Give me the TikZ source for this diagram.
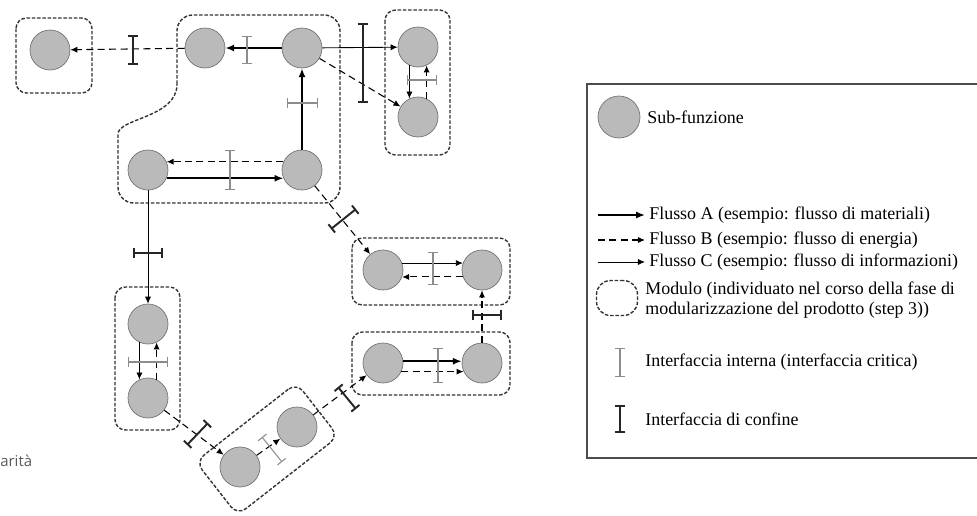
\documentclass[tikz,border=0pt]{standalone}
\usepackage{fontspec}
\setmainfont{Liberation Serif}
\newfontfamily\captfont{Open Sans}
\usetikzlibrary{arrows.meta}

\begin{document}
\begin{tikzpicture}[x=0.02cm, y=-0.02cm,
    subf/.style={circle, draw=black!55, fill=black!27, minimum size=0.8cm, inner sep=0pt},
    modulo/.style={draw=black!80, dash pattern=on 2pt off 1pt, line width=0.8pt, rounded corners=6pt},
    flowA/.style={line width=1.3pt, -{Latex[length=5pt,width=4pt]}},
    flowB/.style={line width=0.6pt, dash pattern=on 4pt off 2.5pt, -{Latex[length=4pt,width=3.5pt]}},
    flowC/.style={line width=0.5pt, -{Latex[length=4pt,width=3.5pt]}},
    intf/.style={black!45, line width=0.6pt, {Bar[width=6pt]}-{Bar[width=6pt]}},
    conf/.style={black!85, line width=1.1pt, {Bar[width=6pt]}-{Bar[width=6pt]}},
    legtext/.style={anchor=west, inner sep=0pt, font=\fontsize{10.2}{12}\selectfont}]
  \useasboundingbox (0,0) rectangle (977,515);

  % sub-funzioni
  \node[subf] (n1) at (50,50) {};
  \node[subf] (n2) at (205,48) {};
  \node[subf] (n3) at (302,48) {};
  \node[subf] (n4) at (148,170) {};
  \node[subf] (n5) at (302,170) {};
  \node[subf] (n6) at (418,47) {};
  \node[subf] (n7) at (418,117) {};
  \node[subf] (n8) at (148,324) {};
  \node[subf] (n9) at (148,398) {};
  \node[subf] (n10) at (240,467) {};
  \node[subf] (n11) at (297,427) {};
  \node[subf] (n12) at (383,270) {};
  \node[subf] (n13) at (482,270) {};
  \node[subf] (n14) at (383,363) {};
  \node[subf] (n15) at (482,363) {};

  % moduli
  \draw[modulo] (16,18) rectangle (92,93);
  \draw[modulo, rounded corners=9pt] (177,84) -- (177,15) -- (340,15) -- (340,203)
    -- (118,203) -- (118,150) .. controls (118,118) and (177,118) .. (177,84);
  \draw[modulo] (385,10) rectangle (450,155);
  \draw[modulo] (115,287) rectangle (180,430);
  \node[modulo, rotate=38, minimum width=2.56cm, minimum height=1.36cm] (modD) at (267,449) {};
  \draw[modulo] (352,238) rectangle (510,305);
  \draw[modulo] (352,332) rectangle (510,395);

  % flussi nel modulo grande
  \draw[flowB] (n2) -- (n1);
  \draw[flowA] (n3) -- (n2);
  \draw[flowA] (n5) -- (n3);
  \draw[flowA] (n4.-24) -- (n5.204);
  \draw[flowB] (n5.156) -- (n4.24);
  \draw[flowC] (n3) -- (n6);
  \draw[flowB] (n3) -- (n7);
  \draw[flowC] (n6.245) -- (n7.115);
  \draw[flowB] (n7.65) -- (n6.295);

  % flussi a destra
  \draw[flowB] (n5) -- (n12);
  \draw[flowC] (n12.20) -- (n13.160);
  \draw[flowB] (n13.200) -- (n12.-20);
  \draw[flowB] (n15) -- (n13);
  \draw[flowA] (n14.5) -- (n15.175);
  \draw[flowB] (n14.-25) -- (n15.205);

  % flussi a sinistra e in basso
  \draw[flowC] (n4) -- (n8);
  \draw[flowC] (n8.245) -- (n9.115);
  \draw[flowB] (n9.65) -- (n8.295);
  \draw[flowB] (n9) -- (n10);
  \draw[flowB] (n10) -- (n11);
  \draw[flowB] (n11) -- (n14);

  % interfacce
  \draw[conf] (133,35) -- (133,65);
  \draw[intf] (247,36) -- (247,64);
  \draw[intf] (287,103) -- (318,103);
  \draw[intf] (230,150) -- (230,190);
  \draw[conf] (363,23) -- (363,103);
  \draw[intf] (407,80) -- (437,80);
  \draw[conf] (331,229) -- (356,209);
  \draw[intf] (433,252) -- (433,285);
  \draw[conf] (472,315) -- (502,315);
  \draw[intf] (438,348) -- (438,383);
  \draw[conf] (338,387) -- (356,409);
  \draw[conf] (133,253) -- (163,253);
  \draw[intf] (128,362) -- (168,362);
  \draw[conf] (187,445) -- (208,423);
  \draw[intf] (262,437) -- (282,462);

  % legenda
  \draw[black!70, line width=0.6pt] (985,84) -- (587,84) -- (587,458) -- (985,458);
  \node[subf, minimum size=0.84cm] (legS) at (619,117) {};
  \node[legtext] (tS) at (647,117) {Sub-funzione};
  \coordinate (aA) at (598,215); \coordinate (bA) at (645,215);
  \draw[flowA] (aA) -- (bA);
  \node[legtext] (tA) at (649,215) {Flusso A (esempio: flusso di materiali)};
  \coordinate (aB) at (598,240); \coordinate (bB) at (645,240);
  \draw[flowB] (aB) -- (bB);
  \node[legtext] (tB) at (649,240) {Flusso B (esempio: flusso di energia)};
  \coordinate (aC) at (598,262); \coordinate (bC) at (645,262);
  \draw[flowC] (aC) -- (bC);
  \node[legtext] (tC) at (649,262) {Flusso C (esempio: flusso di informazioni)};
  \node[modulo, rounded corners=8pt, minimum width=0.82cm, minimum height=0.7cm] (legM) at (617,298) {};
  \node[legtext] (tM1) at (645,290) {Modulo (individuato nel corso della fase di};
  \node[legtext] (tM2) at (645,310) {modularizzazione del prodotto (step 3))};
  \coordinate (aI) at (620,348); \coordinate (bI) at (620,377);
  \draw[intf] (aI) -- (bI);
  \node[legtext] (tI) at (645,362) {Interfaccia interna (interfaccia critica)};
  \coordinate (aK) at (620,405); \coordinate (bK) at (620,433);
  \draw[conf] (aK) -- (bK);
  \node[legtext] (tK) at (645,419) {Interfaccia di confine};

  \node[anchor=base west, inner sep=0pt, text=black!65, font=\captfont\fontsize{8.5}{10}\selectfont] (capt) at (0,466) {arità};
\end{tikzpicture}
\end{document}
